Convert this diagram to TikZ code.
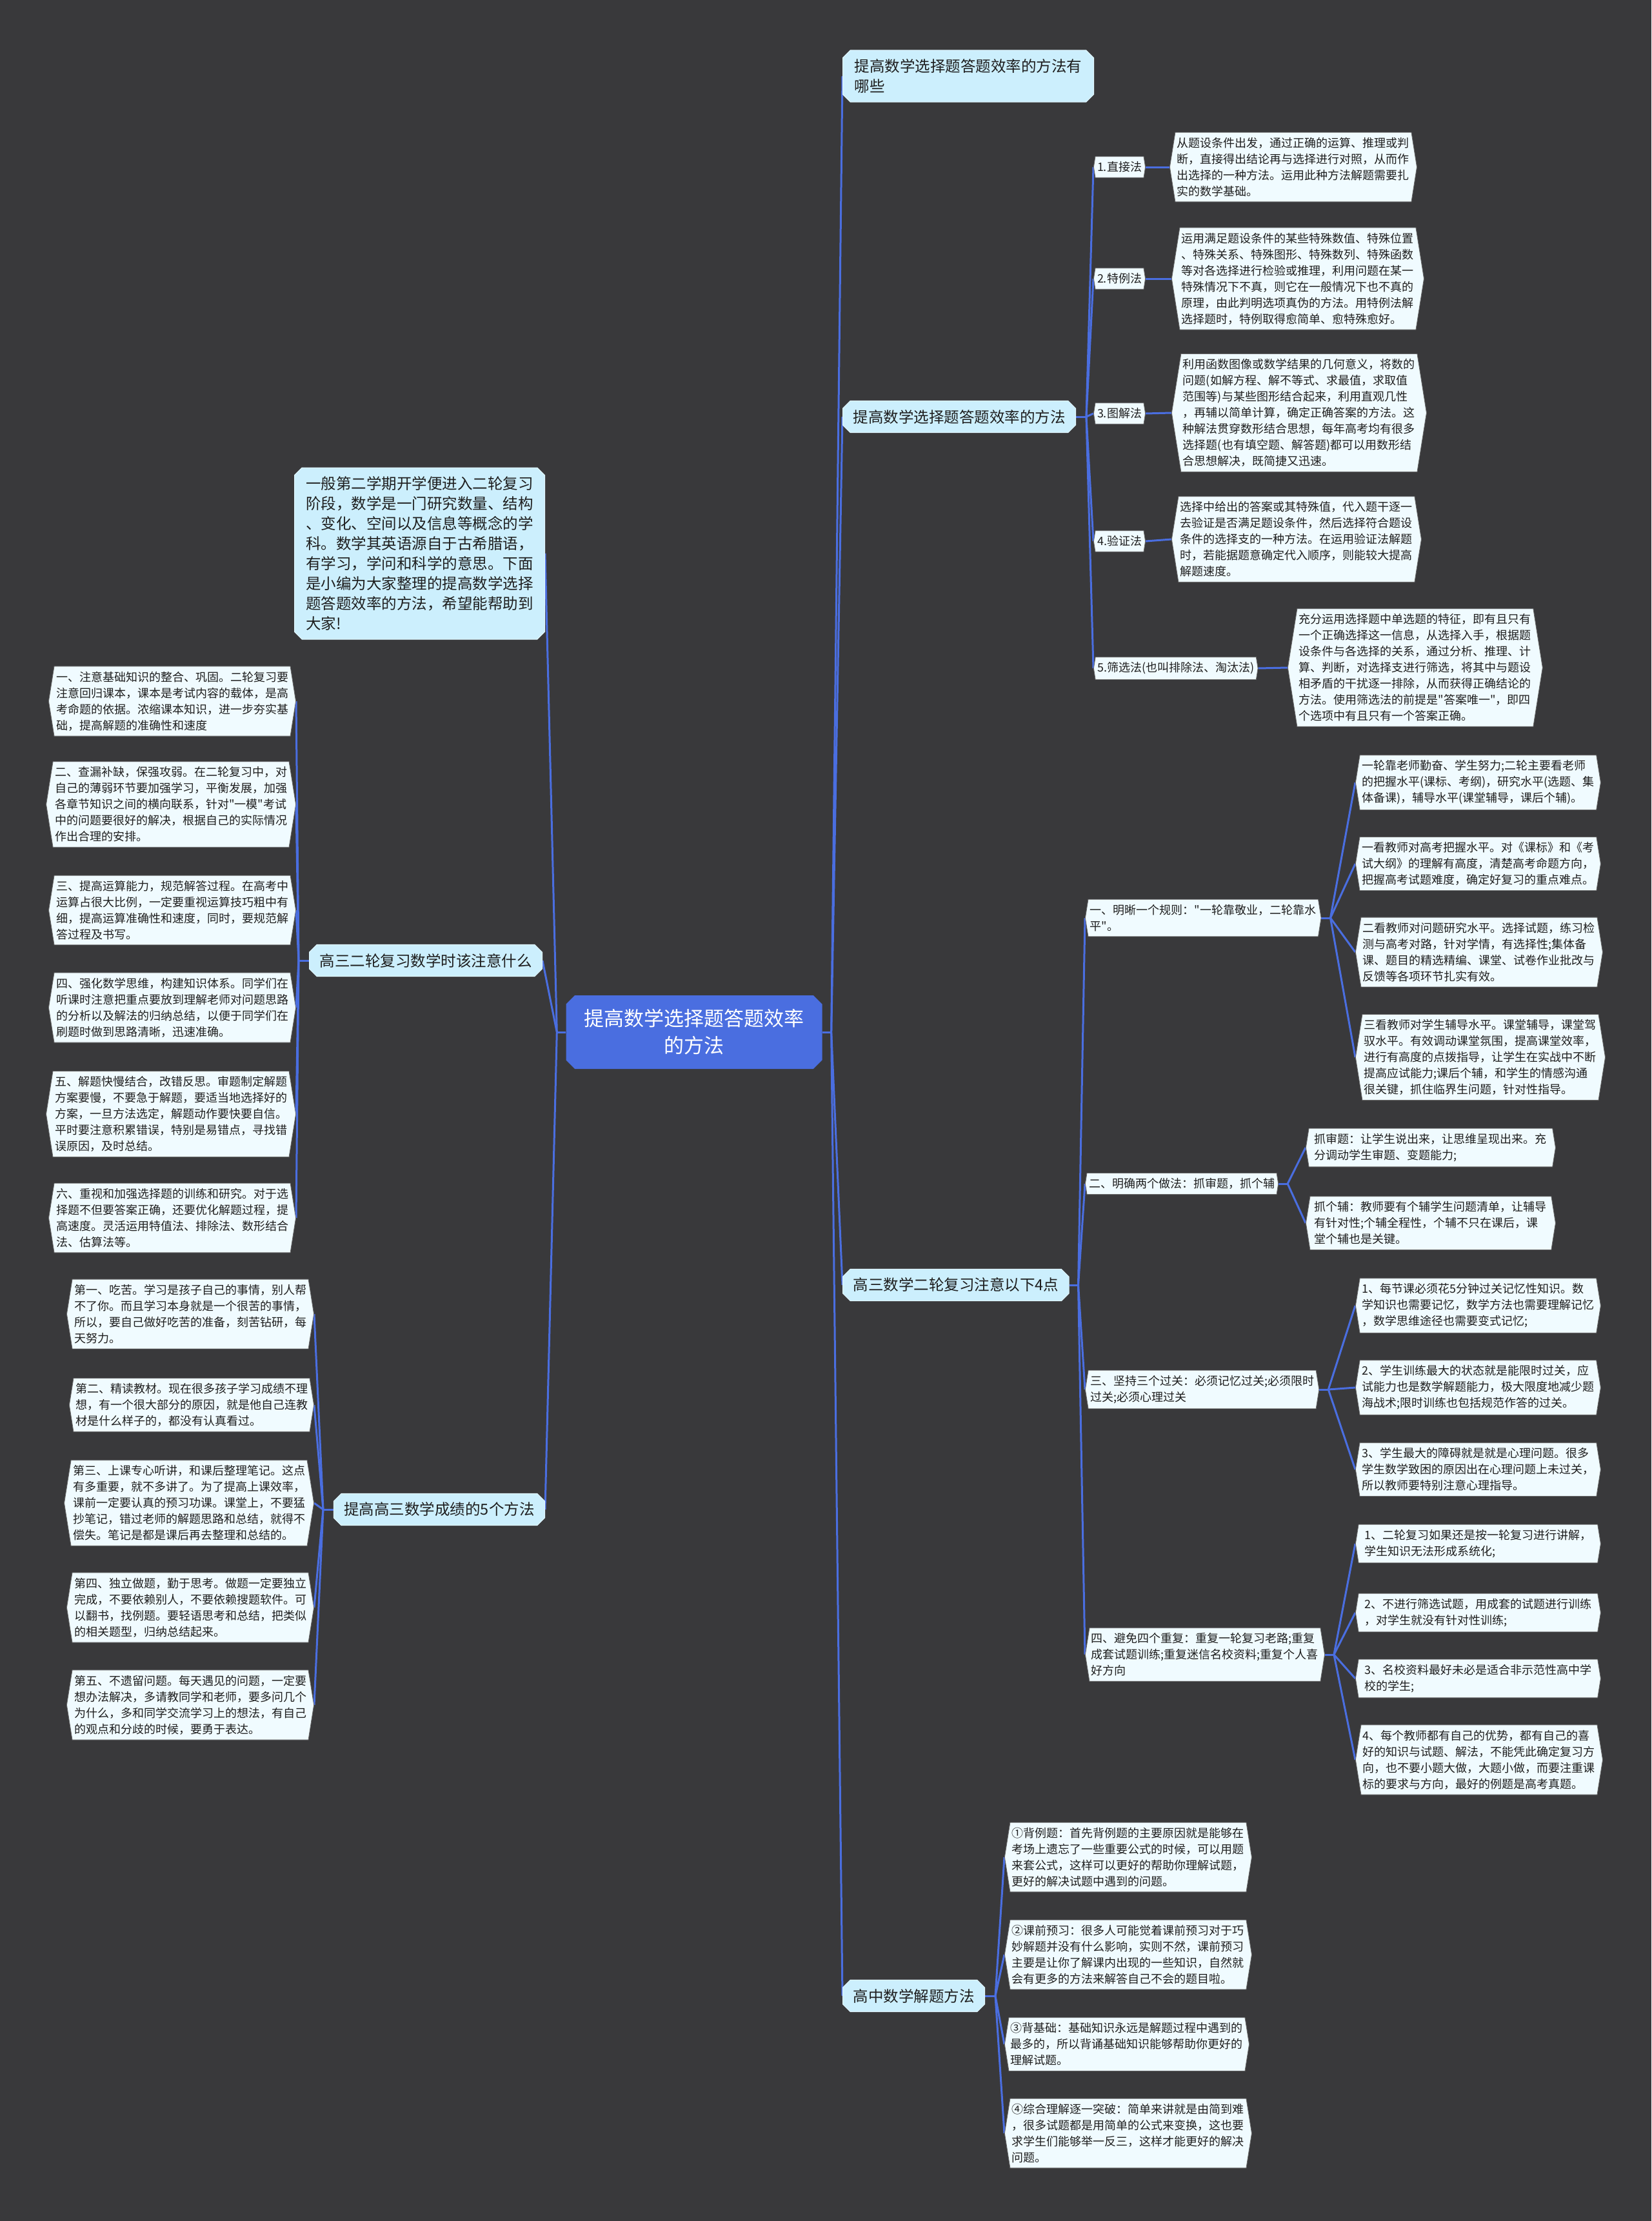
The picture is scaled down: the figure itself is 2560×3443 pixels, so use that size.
\documentclass[tikz,border=0pt]{standalone}
\usepackage{fontspec}
\setmainfont{Noto Sans CJK SC}[Ligatures=TeXOff]
\usetikzlibrary{shapes.misc,shapes.symbols,backgrounds,calc}
\definecolor{bgc}{RGB}{57,57,59}
\definecolor{edgec}{RGB}{74,110,224}
\definecolor{topicc}{RGB}{204,239,253}
\definecolor{topicd}{RGB}{225,247,255}
\definecolor{leafc}{RGB}{240,251,255}
\definecolor{leafd}{RGB}{105,105,105}
\definecolor{txtc}{RGB}{30,30,30}
\pgfdeclarelayer{bglayer}
\pgfsetlayers{bglayer,background,main}
\tikzset{
  leaf/.style={signal, signal to=west and east, signal pointer angle=162,
    fill=leafc, draw=leafd, line width=0.8pt, text=txtc,
    font=\fontsize{18}{25}\selectfont, align=left, inner xsep=3pt, inner ysep=8pt,
    minimum width=376pt},
  sub/.style={leaf, minimum width=0pt},
  topic/.style={chamfered rectangle, chamfered rectangle xsep=8pt, fill=topicc,
    draw=topicd, line width=1pt, text=txtc,
    font=\fontsize{23.5}{31}\selectfont, align=left, inner xsep=8pt, inner ysep=10pt},
  rootn/.style={chamfered rectangle, chamfered rectangle xsep=10pt, fill=edgec,
    text=white, font=\fontsize{31}{42}\selectfont, align=center,
    inner xsep=10pt, inner ysep=12pt, minimum width=397pt, minimum height=114pt},
  edge/.style={draw=edgec, line width=3pt},
}
\begin{document}
\begin{tikzpicture}[x=1pt,y=-1pt]
\begin{pgfonlayer}{bglayer}
\fill[bgc] (0,0) rectangle (2560,3443);
\end{pgfonlayer}
\useasboundingbox (0,0) rectangle (2560,3443);

% root
\node[rootn] (root) at (1076,1600) {提高数学选择题答题效率\\的方法};

% right topics
\node[topic, anchor=west, minimum width=389pt] (R1) at (1306,118) {提高数学选择题答题效率的方法有\\哪些};
\node[topic, anchor=west] (R2) at (1306,646) {提高数学选择题答题效率的方法};
\node[topic, anchor=west] (R3) at (1306,1992) {高三数学二轮复习注意以下4点};
\node[topic, anchor=west] (R4) at (1306,3094) {高中数学解题方法};

% R2 subs
\node[sub, anchor=west] (S1) at (1695,259) {1.直接法};
\node[sub, anchor=west] (S2) at (1695,432) {2.特例法};
\node[sub, anchor=west] (S3) at (1695,641) {3.图解法};
\node[sub, anchor=west] (S4) at (1695,839) {4.验证法};
\node[sub, anchor=west] (S5) at (1695,1036) {5.筛选法(也叫排除法、淘汰法)};

\node[leaf, anchor=west] (T1) at (1813,259) {从题设条件出发，通过正确的运算、推理或判\\断，直接得出结论再与选择进行对照，从而作\\出选择的一种方法。运用此种方法解题需要扎\\实的数学基础。};
\node[leaf, anchor=west] (T2) at (1816,432) {运用满足题设条件的某些特殊数值、特殊位置\\、特殊关系、特殊图形、特殊数列、特殊函数\\等对各选择进行检验或推理，利用问题在某一\\特殊情况下不真，则它在一般情况下也不真的\\原理，由此判明选项真伪的方法。用特例法解\\选择题时，特例取得愈简单、愈特殊愈好。};
\node[leaf, anchor=west] (T3) at (1816,640) {利用函数图像或数学结果的几何意义，将数的\\问题(如解方程、解不等式、求最值，求取值\\范围等)与某些图形结合起来，利用直观几性\\，再辅以简单计算，确定正确答案的方法。这\\种解法贯穿数形结合思想，每年高考均有很多\\选择题(也有填空题、解答题)都可以用数形结\\合思想解决，既简捷又迅速。};
\node[leaf, anchor=west] (T4) at (1816,836) {选择中给出的答案或其特殊值，代入题干逐一\\去验证是否满足题设条件，然后选择符合题设\\条件的选择支的一种方法。在运用验证法解题\\时，若能据题意确定代入顺序，则能较大提高\\解题速度。};
\node[leaf, anchor=west] (T5) at (1996,1035) {充分运用选择题中单选题的特征，即有且只有\\一个正确选择这一信息，从选择入手，根据题\\设条件与各选择的关系，通过分析、推理、计\\算、判断，对选择支进行筛选，将其中与题设\\相矛盾的干扰逐一排除，从而获得正确结论的\\方法。使用筛选法的前提是"答案唯一"，即四\\个选项中有且只有一个答案正确。};

% R3 subs
\node[sub, anchor=west] (A) at (1682,1423) {一、明晰一个规则："一轮靠敬业，二轮靠水\\平"。};
\node[sub, anchor=west] (B) at (1682,1835) {二、明确两个做法：抓审题，抓个辅};
\node[sub, anchor=west] (C) at (1682,2154) {三、坚持三个过关：必须记忆过关;必须限时\\过关;必须心理过关};
\node[sub, anchor=west] (D) at (1682,2565) {四、避免四个重复：重复一轮复习老路;重复\\成套试题训练;重复迷信名校资料;重复个人喜\\好方向};

\node[leaf, anchor=west, minimum width=380pt] (A1) at (2101,1213) {一轮靠老师勤奋、学生努力;二轮主要看老师\\的把握水平(课标、考纲)，研究水平(选题、集\\体备课)，辅导水平(课堂辅导，课后个辅)。};
\node[leaf, anchor=west, minimum width=380pt] (A2) at (2101,1339) {一看教师对高考把握水平。对《课标》和《考\\试大纲》的理解有高度，清楚高考命题方向，\\把握高考试题难度，确定好复习的重点难点。};
\node[leaf, anchor=west, minimum width=380pt] (A3) at (2101,1476) {二看教师对问题研究水平。选择试题，练习检\\测与高考对路，针对学情，有选择性;集体备\\课、题目的精选精编、课堂、试卷作业批改与\\反馈等各项环节扎实有效。};
\node[leaf, anchor=west, minimum width=380pt] (A4) at (2101,1639) {三看教师对学生辅导水平。课堂辅导，课堂驾\\驭水平。有效调动课堂氛围，提高课堂效率，\\进行有高度的点拨指导，让学生在实战中不断\\提高应试能力;课后个辅，和学生的情感沟通\\很关键，抓住临界生问题，针对性指导。};

\node[leaf, anchor=west, minimum width=387pt] (B1) at (2024,1779) {抓审题：让学生说出来，让思维呈现出来。充\\分调动学生审题、变题能力;};
\node[leaf, anchor=west, minimum width=387pt] (B2) at (2024,1896) {抓个辅：教师要有个辅学生问题清单，让辅导\\有针对性;个辅全程性，个辅不只在课后，课\\堂个辅也是关键。};

\node[leaf, anchor=west, minimum width=380pt] (C1) at (2101,2024) {1、每节课必须花5分钟过关记忆性知识。数\\学知识也需要记忆，数学方法也需要理解记忆\\，数学思维途径也需要变式记忆;};
\node[leaf, anchor=west, minimum width=380pt] (C2) at (2101,2151) {2、学生训练最大的状态就是能限时过关，应\\试能力也是数学解题能力，极大限度地减少题\\海战术;限时训练也包括规范作答的过关。};
\node[leaf, anchor=west, minimum width=380pt] (C3) at (2101,2278) {3、学生最大的障碍就是就是心理问题。很多\\学生数学致困的原因出在心理问题上未过关，\\所以教师要特别注意心理指导。};

\node[leaf, anchor=west, minimum width=380pt] (D1) at (2101,2393) {1、二轮复习如果还是按一轮复习进行讲解，\\学生知识无法形成系统化;};
\node[leaf, anchor=west, minimum width=380pt] (D2) at (2101,2500) {2、不进行筛选试题，用成套的试题进行训练\\，对学生就没有针对性训练;};
\node[leaf, anchor=west, minimum width=380pt] (D3) at (2101,2602) {3、名校资料最好未必是适合非示范性高中学\\校的学生;};
\node[leaf, anchor=west, minimum width=380pt] (D4) at (2101,2728) {4、每个教师都有自己的优势，都有自己的喜\\好的知识与试题、解法，不能凭此确定复习方\\向，也不要小题大做，大题小做，而要注重课\\标的要求与方向，最好的例题是高考真题。};

% R4 leaves
\node[leaf, anchor=west] (E1) at (1557,2879) {①背例题：首先背例题的主要原因就是能够在\\考场上遗忘了一些重要公式的时候，可以用题\\来套公式，这样可以更好的帮助你理解试题，\\更好的解决试题中遇到的问题。};
\node[leaf, anchor=west] (E2) at (1557,3030) {②课前预习：很多人可能觉着课前预习对于巧\\妙解题并没有什么影响，实则不然，课前预习\\主要是让你了解课内出现的一些知识，自然就\\会有更多的方法来解答自己不会的题目啦。};
\node[leaf, anchor=west] (E3) at (1557,3169) {③背基础：基础知识永远是解题过程中遇到的\\最多的，所以背诵基础知识能够帮助你更好的\\理解试题。};
\node[leaf, anchor=west] (E4) at (1557,3307) {④综合理解逐一突破：简单来讲就是由简到难\\，很多试题都是用简单的公式来变换，这也要\\求学生们能够举一反三，这样才能更好的解决\\问题。};

% left topics
\node[topic, anchor=east, minimum width=388pt] (intro) at (845,858) {一般第二学期开学便进入二轮复习\\阶段，数学是一门研究数量、结构\\、变化、空间以及信息等概念的学\\科。数学其英语源自于古希腊语，\\有学习，学问和科学的意思。下面\\是小编为大家整理的提高数学选择\\题答题效率的方法，希望能帮助到\\大家!};
\node[topic, anchor=east] (L1) at (841,1489) {高三二轮复习数学时该注意什么};
\node[topic, anchor=east] (L2) at (845,2340) {提高高三数学成绩的5个方法};

\node[leaf, anchor=east, minimum width=378pt] (F1) at (459,1087) {一、注意基础知识的整合、巩固。二轮复习要\\注意回归课本，课本是考试内容的载体，是高\\考命题的依据。浓缩课本知识，进一步夯实基\\础，提高解题的准确性和速度};
\node[leaf, anchor=east, minimum width=378pt] (F2) at (459,1247) {二、查漏补缺，保强攻弱。在二轮复习中，对\\自己的薄弱环节要加强学习，平衡发展，加强\\各章节知识之间的横向联系，针对"一模"考试\\中的问题要很好的解决，根据自己的实际情况\\作出合理的安排。};
\node[leaf, anchor=east, minimum width=378pt] (F3) at (459,1411) {三、提高运算能力，规范解答过程。在高考中\\运算占很大比例，一定要重视运算技巧粗中有\\细，提高运算准确性和速度，同时，要规范解\\答过程及书写。};
\node[leaf, anchor=east, minimum width=378pt] (F4) at (459,1562) {四、强化数学思维，构建知识体系。同学们在\\听课时注意把重点要放到理解老师对问题思路\\的分析以及解法的归纳总结，以便于同学们在\\刷题时做到思路清晰，迅速准确。};
\node[leaf, anchor=east, minimum width=378pt] (F5) at (459,1727) {五、解题快慢结合，改错反思。审题制定解题\\方案要慢，不要急于解题，要适当地选择好的\\方案，一旦方法选定，解题动作要快要自信。\\平时要注意积累错误，特别是易错点，寻找错\\误原因，及时总结。};
\node[leaf, anchor=east, minimum width=378pt] (F6) at (459,1888) {六、重视和加强选择题的训练和研究。对于选\\择题不但要答案正确，还要优化解题过程，提\\高速度。灵活运用特值法、排除法、数形结合\\法、估算法等。};

\node[leaf, anchor=east, minimum width=375pt] (G1) at (487,2037) {第一、吃苦。学习是孩子自己的事情，别人帮\\不了你。而且学习本身就是一个很苦的事情，\\所以，要自己做好吃苦的准备，刻苦钻研，每\\天努力。};
\node[leaf, anchor=east, minimum width=375pt] (G2) at (487,2178) {第二、精读教材。现在很多孩子学习成绩不理\\想，有一个很大部分的原因，就是他自己连教\\材是什么样子的，都没有认真看过。};
\node[leaf, anchor=east, minimum width=375pt] (G3) at (487,2330) {第三、上课专心听讲，和课后整理笔记。这点\\有多重要，就不多讲了。为了提高上课效率，\\课前一定要认真的预习功课。课堂上，不要猛\\抄笔记，错过老师的解题思路和总结，就得不\\偿失。笔记是都是课后再去整理和总结的。};
\node[leaf, anchor=east, minimum width=375pt] (G4) at (487,2492) {第四、独立做题，勤于思考。做题一定要独立\\完成，不要依赖别人，不要依赖搜题软件。可\\以翻书，找例题。要轻语思考和总结，把类似\\的相关题型，归纳总结起来。};
\node[leaf, anchor=east, minimum width=375pt] (G5) at (487,2643) {第五、不遗留问题。每天遇见的问题，一定要\\想办法解决，多请教同学和老师，要多问几个\\为什么，多和同学交流学习上的想法，有自己\\的观点和分歧的时候，要勇于表达。};

% connectors
\begin{scope}[on background layer]
\coordinate (rf) at ($(root.east)+(14,0)$);
\draw[edge] (root.east) -- (rf);
\foreach \n in {R1,R2,R3,R4} \draw[edge] (rf) -- (\n.west);
\coordinate (lf) at ($(root.west)+(-14,0)$);
\draw[edge] (root.west) -- (lf);
\foreach \n in {intro,L1,L2} \draw[edge] (lf) -- (\n.east);

\coordinate (r2f) at ($(R2.east)+(16,0)$);
\draw[edge] (R2.east) -- (r2f);
\foreach \n in {S1,S2,S3,S4,S5} \draw[edge] (r2f) -- (\n.west);
\draw[edge] (S1.east) -- (T1.west);
\draw[edge] (S2.east) -- (T2.west);
\draw[edge] (S3.east) -- (T3.west);
\draw[edge] (S4.east) -- (T4.west);
\draw[edge] (S5.east) -- (T5.west);

\coordinate (r3f) at ($(R3.east)+(14,0)$);
\draw[edge] (R3.east) -- (r3f);
\foreach \n in {A,B,C,D} \draw[edge] (r3f) -- (\n.west);
\coordinate (af) at ($(A.east)+(14,0)$);
\draw[edge] (A.east) -- (af);
\foreach \n in {A1,A2,A3,A4} \draw[edge] (af) -- (\n.west);
\coordinate (bf) at ($(B.east)+(14,0)$);
\draw[edge] (B.east) -- (bf);
\foreach \n in {B1,B2} \draw[edge] (bf) -- (\n.west);
\coordinate (cf) at ($(C.east)+(14,0)$);
\draw[edge] (C.east) -- (cf);
\foreach \n in {C1,C2,C3} \draw[edge] (cf) -- (\n.west);
\coordinate (df) at ($(D.east)+(14,0)$);
\draw[edge] (D.east) -- (df);
\foreach \n in {D1,D2,D3,D4} \draw[edge] (df) -- (\n.west);

\coordinate (r4f) at ($(R4.east)+(16,0)$);
\draw[edge] (R4.east) -- (r4f);
\foreach \n in {E1,E2,E3,E4} \draw[edge] (r4f) -- (\n.west);

\coordinate (l1f) at ($(L1.west)+(-16,0)$);
\draw[edge] (L1.west) -- (l1f);
\foreach \n in {F1,F2,F3,F4,F5,F6} \draw[edge] (l1f) -- (\n.east);
\coordinate (l2f) at ($(L2.west)+(-16,0)$);
\draw[edge] (L2.west) -- (l2f);
\foreach \n in {G1,G2,G3,G4,G5} \draw[edge] (l2f) -- (\n.east);
\end{scope}
\end{tikzpicture}
\end{document}
